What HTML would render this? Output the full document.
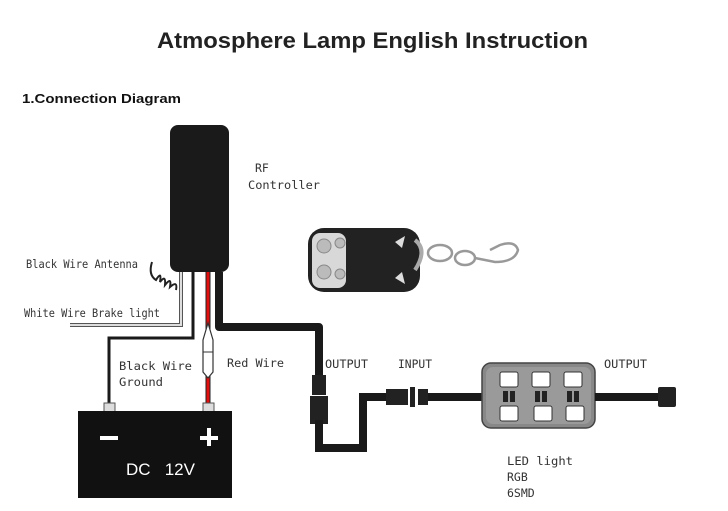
<!DOCTYPE html>
<html><head><meta charset="utf-8"><style>
html,body{margin:0;padding:0;background:#fff;width:728px;height:511px;overflow:hidden}
svg{display:block}
.m{font-family:"DejaVu Sans Mono","Liberation Mono",monospace;font-size:11.5px;fill:#333}
</style></head><body>
<svg width="728" height="511" viewBox="0 0 728 511" xmlns="http://www.w3.org/2000/svg">
<text x="157" y="48" textLength="431" lengthAdjust="spacingAndGlyphs" font-family="Liberation Sans,sans-serif" font-weight="bold" font-size="22" fill="#222">Atmosphere Lamp English Instruction</text>
<text x="22" y="103" textLength="159" lengthAdjust="spacingAndGlyphs" font-family="Liberation Sans,sans-serif" font-weight="bold" font-size="13" fill="#111">1.Connection Diagram</text>

<!-- controller -->
<rect x="170" y="125" width="59" height="147" rx="8" fill="#1a1a1a"/>
<text class="m" x="255" y="172">RF</text>
<text class="m" x="248" y="189" textLength="72" lengthAdjust="spacingAndGlyphs">Controller</text>

<!-- antenna coil -->
<path d="M152 262 Q148 275 156 280 Q162 270 160 282 Q166 274 165 285 Q172 276 170 287 Q178 280 176 290" fill="none" stroke="#222" stroke-width="2"/>
<text class="m" x="26" y="268" textLength="112" lengthAdjust="spacingAndGlyphs">Black Wire Antenna</text>
<!-- white wire -->
<path d="M181 272 V325 H70" fill="none" stroke="#555" stroke-width="4"/>
<path d="M181 272 V325 H70" fill="none" stroke="#ddd" stroke-width="2"/>
<text class="m" x="24" y="317" textLength="136" lengthAdjust="spacingAndGlyphs">White Wire Brake light</text>
<!-- ground -->
<path d="M193 272 V338 H109 V404" fill="none" stroke="#1a1a1a" stroke-width="3"/>
<text class="m" x="119" y="370" textLength="73" lengthAdjust="spacingAndGlyphs">Black Wire</text>
<text class="m" x="119" y="386" textLength="44" lengthAdjust="spacingAndGlyphs">Ground</text>
<!-- red -->
<line x1="208" y1="272" x2="208" y2="404" stroke="#222" stroke-width="5"/>
<line x1="208" y1="272" x2="208" y2="404" stroke="#e01010" stroke-width="3"/>
<path d="M208 323 L213 340 L213 372 L208 378 L203 372 L203 340 Z" fill="#fff" stroke="#333" stroke-width="1.2"/>
<line x1="203" y1="352" x2="213" y2="352" stroke="#333"/>
<text class="m" x="227" y="367" textLength="57" lengthAdjust="spacingAndGlyphs">Red Wire</text>
<!-- output black wire -->
<path d="M219 272 V327 H319 V380" fill="none" stroke="#1a1a1a" stroke-width="8" stroke-linejoin="round"/>
<rect x="312" y="375" width="14" height="20" fill="#222"/>
<rect x="310" y="396" width="18" height="28" fill="#222"/>
<path d="M319 420 V448 H363 V397 H390" fill="none" stroke="#1a1a1a" stroke-width="8"/>
<rect x="386" y="389" width="22" height="16" fill="#222"/>
<rect x="410" y="387" width="5" height="20" fill="#222"/>
<rect x="418" y="389" width="10" height="16" fill="#222"/>
<line x1="428" y1="397" x2="484" y2="397" stroke="#1a1a1a" stroke-width="8"/>
<text class="m" x="325" y="368" textLength="43" lengthAdjust="spacingAndGlyphs">OUTPUT</text>
<text class="m" x="398" y="368" textLength="34" lengthAdjust="spacingAndGlyphs">INPUT</text>
<text class="m" x="604" y="368" textLength="43" lengthAdjust="spacingAndGlyphs">OUTPUT</text>
<!-- LED box -->
<rect x="482" y="363" width="113" height="65" rx="9" fill="#888" stroke="#444" stroke-width="1.5"/>
<rect x="486" y="367" width="105" height="57" rx="7" fill="#9a9a9a"/>
<g fill="#fff" stroke="#333">
<rect x="500" y="372" width="18" height="15" rx="2"/><rect x="532" y="372" width="18" height="15" rx="2"/><rect x="564" y="372" width="18" height="15" rx="2"/>
<rect x="500" y="406" width="18" height="15" rx="2"/><rect x="534" y="406" width="18" height="15" rx="2"/><rect x="566" y="406" width="18" height="15" rx="2"/>
</g>
<g fill="#222">
<rect x="503" y="391" width="5" height="11"/><rect x="510" y="391" width="5" height="11"/>
<rect x="535" y="391" width="5" height="11"/><rect x="542" y="391" width="5" height="11"/>
<rect x="567" y="391" width="5" height="11"/><rect x="574" y="391" width="5" height="11"/>
</g>
<line x1="595" y1="397" x2="660" y2="397" stroke="#1a1a1a" stroke-width="8"/>
<rect x="658" y="387" width="18" height="20" rx="2" fill="#222"/>
<text class="m" x="507" y="465" textLength="66" lengthAdjust="spacingAndGlyphs">LED light</text>
<text class="m" x="507" y="481">RGB</text>
<text class="m" x="507" y="497">6SMD</text>
<!-- battery -->
<rect x="104" y="403" width="11" height="10" fill="#ddd" stroke="#555"/>
<rect x="203" y="403" width="11" height="10" fill="#ddd" stroke="#555"/>
<rect x="78" y="411" width="154" height="87" fill="#111"/>
<rect x="100" y="436" width="18" height="4" fill="#fff"/>
<rect x="200" y="436" width="18" height="4" fill="#fff"/>
<rect x="207" y="428" width="4" height="18" fill="#fff"/>
<text x="126" y="475" font-family="Liberation Sans,sans-serif" font-size="17" fill="#fff">DC&#160;&#160;&#160;12V</text>
<!-- remote -->
<rect x="308" y="228" width="112" height="64" rx="16" fill="#222"/>
<rect x="312" y="233" width="34" height="55" rx="8" fill="#d8d8d8"/>
<circle cx="324" cy="246" r="7" fill="#bbb" stroke="#888"/><circle cx="340" cy="243" r="5" fill="#bbb" stroke="#888"/>
<circle cx="324" cy="272" r="7" fill="#bbb" stroke="#888"/><circle cx="340" cy="274" r="5" fill="#bbb" stroke="#888"/>
<path d="M395 242 L405 236 L402 248 Z M395 278 L405 284 L402 272 Z" fill="#ddd"/>
<path d="M415 240 Q428 250 415 270" fill="none" stroke="#aaa" stroke-width="4"/>
<ellipse cx="440" cy="253" rx="12" ry="8" fill="none" stroke="#999" stroke-width="2.5"/>
<ellipse cx="465" cy="258" rx="10" ry="7" fill="none" stroke="#999" stroke-width="2.5"/>
<path d="M475 258 L495 262 Q515 262 518 250 Q515 240 500 245 L490 250" fill="none" stroke="#999" stroke-width="2.5"/>
</svg>
</body></html>
